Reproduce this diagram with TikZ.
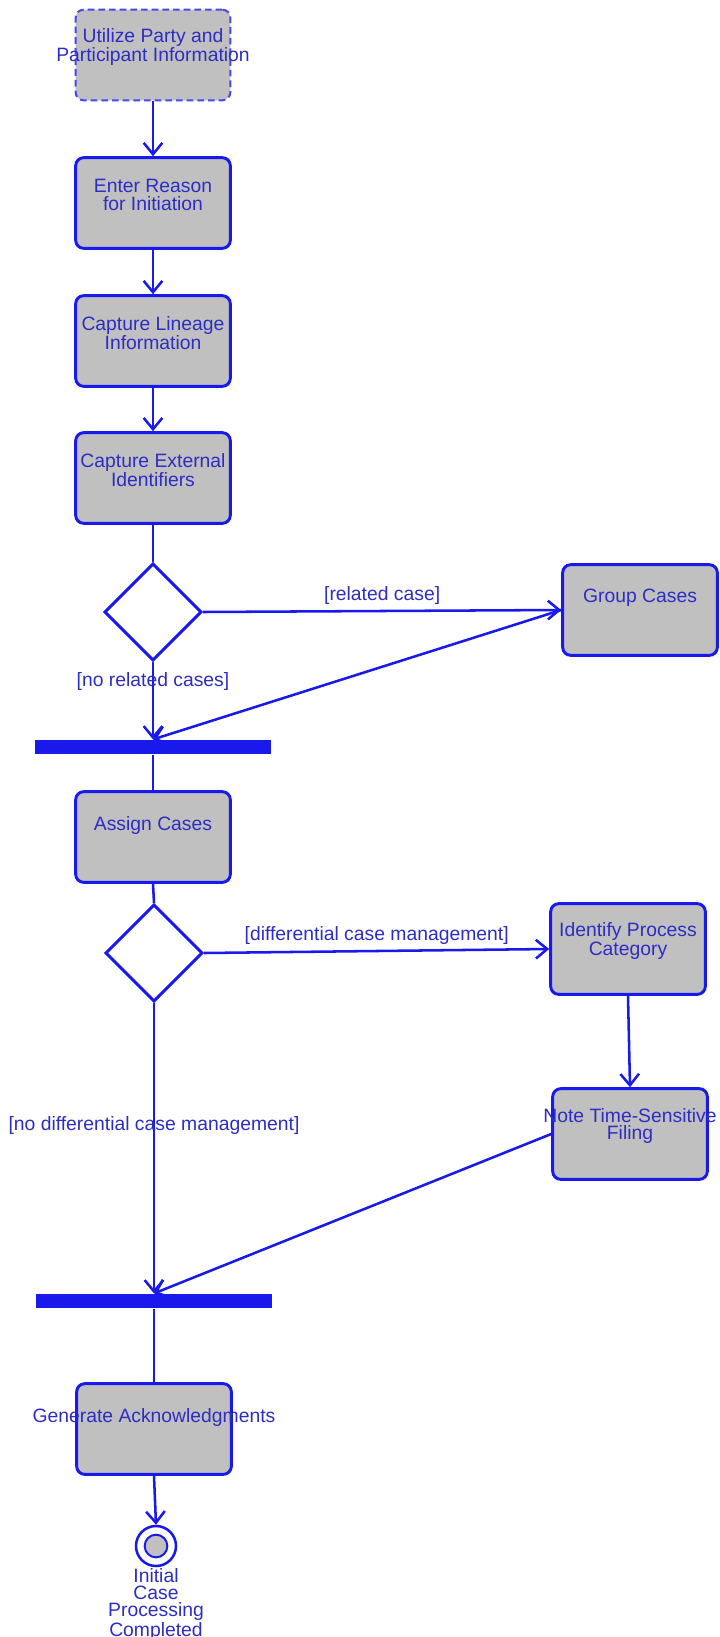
\documentclass[tikz,border=0pt]{standalone}
\usepackage{fontspec}
\setmainfont{Liberation Sans}
\usetikzlibrary{arrows.meta,shapes.geometric}
\definecolor{umlline}{RGB}{25,25,235}
\definecolor{umltext}{RGB}{45,45,195}
\definecolor{umlgray}{RGB}{192,192,192}

\begin{document}
\begin{tikzpicture}[x=0.75pt, y=-0.75pt,
  act/.style={shape=rectangle, rounded corners=6pt, draw=umlline, line width=2.2pt, fill=umlgray, minimum width=116pt, minimum height=68pt, inner sep=0pt},
  txt/.style={text=umltext, font=\fontsize{14.5pt}{13pt}\selectfont, align=center},
  choice/.style={shape=diamond, draw=umlline, line width=2.2pt, fill=white, minimum width=73pt, minimum height=73pt, inner sep=0pt},
  bar/.style={shape=rectangle, fill=umlline, minimum width=177pt, minimum height=11pt, inner sep=0pt},
  link/.style={draw=umlline, line width=1.9pt},
  flow/.style={link, -{Straight Barb[length=8.5pt,width=14pt]}},
  guard/.style={txt, inner sep=1pt}]
\useasboundingbox (0,0) rectangle (720,1637);
% activities down the main column
\node[act, dashed, line width=1.5pt, draw=umlline!80, dash pattern=on 5pt off 3pt, label={[txt, yshift=6pt]center:{Utilize Party and\\Participant Information}}](0) at (153,55) {};
\node[act, label={[txt, yshift=6pt]center:{Enter Reason\\for Initiation}}](1) at (153,203) {};
\node[act, label={[txt, yshift=6pt]center:{Capture Lineage\\Information}}](2) at (153,341) {};
\node[act, label={[txt, yshift=6pt]center:{Capture External\\Identifiers}}](3) at (153,478) {};
\node[choice](4) at (153,612) {};
\node[act, label={[txt, yshift=9pt]center:{Group Cases}}](5) at (640,610) {};
\node[bar](6) at (153,747) {};
\node[act, label={[txt, yshift=9pt]center:{Assign Cases}}](7) at (153,837) {};
\node[choice](8) at (154,953) {};
\node[act, label={[txt, yshift=6pt]center:{Identify Process\\Category}}](9) at (628,949) {};
\node[act, label={[txt, yshift=6pt]center:{Note Time-Sensitive\\Filing}}](10) at (630,1134) {};
\node[bar](11) at (154,1301) {};
\node[act, label={[txt, yshift=9pt]center:{Generate Acknowledgments}}](12) at (154,1429) {};
\node[circle, draw=umlline, line width=1.9pt, fill=white, minimum size=30pt, inner sep=0pt,
  path picture={\draw[umlline, line width=1.5pt, fill=umlgray] (path picture bounding box.center) circle (8.5pt);},
  label={[txt, label distance=-3pt]below:{Initial\\Case\\Processing\\Completed}}](13) at (156,1546) {};

% connectors
\draw[flow] (0.south) -- (1.north);
\draw[flow] (1.south) -- (2.north);
\draw[flow] (2.south) -- (3.north);
\draw[link] (3.south) -- (4.north);
\draw[flow] (4.east) -- node[guard, above=3pt] {[related case]} (5.west);
\draw[flow] (4.south) -- node[guard, pos=0.25] {[no related cases]} (6.north);
\draw[flow] (5.west) -- (6.north);
\draw[link] (6.south) -- (7.north);
\draw[link] (7.south) -- (8.north);
\draw[flow] (8.east) -- node[guard, above=3pt] {[differential case management]} (9.west);
\draw[flow] (9.south) -- (10.north);
\draw[flow] (8.south) -- node[guard, pos=0.42] {[no differential case management]} (11.north);
\draw[flow] (10.west) -- (11.north);
\draw[link] (11.south) -- (12.north);
\draw[flow] (12.south) -- (13.north);
\end{tikzpicture}
\end{document}
